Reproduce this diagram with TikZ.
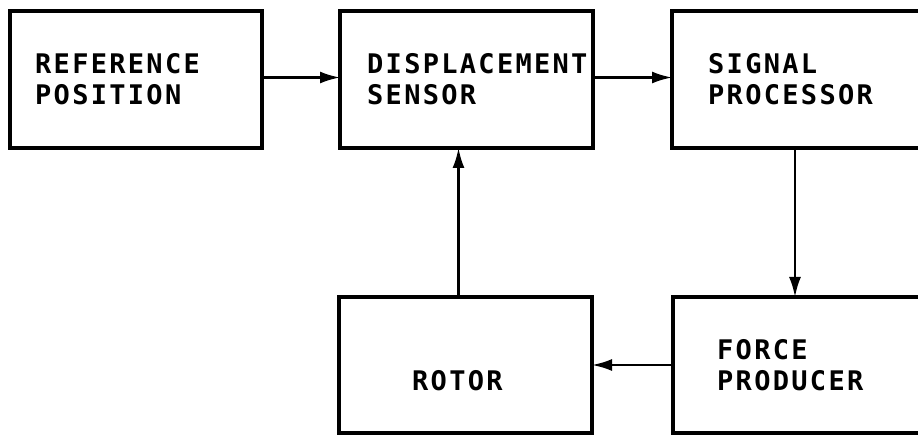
\documentclass[tikz,border=0pt]{standalone}
\usepackage{fontspec}
\newfontfamily\lblfont[LetterSpace=8.5]{DejaVu Sans Mono}
\usetikzlibrary{arrows.meta}
\tikzset{
  blk/.style={draw=black, line width=3.5pt, rectangle, inner sep=0pt, outer sep=0pt, anchor=north west},
  lbl/.style={anchor=north west, inner sep=0pt, align=left, font={\lblfont\bfseries\fontsize{27}{31}\selectfont}},
  conn/.style={line width=2.4pt, arrows={-Latex[length=20pt,width=12pt]}}
}
\begin{document}
\begin{tikzpicture}[x=1pt,y=-1pt]
\clip (0,0) rectangle (918,435);
\fill[white] (0,0) rectangle (918,435);
\node[blk, minimum width=252pt, minimum height=137pt] (ref) at (10,11) {};
\node[blk, minimum width=253pt, minimum height=137pt] (ds) at (340,11) {};
\node[blk, minimum width=300pt, minimum height=137pt] (sp) at (672,11) {};
\node[blk, minimum width=253pt, minimum height=136pt] (rot) at (339,297) {};
\node[blk, minimum width=300pt, minimum height=136pt] (fp) at (673,297) {};
\node[lbl] (tref) at (35,53) {REFERENCE\\POSITION};
\node[lbl] (tds) at (367,53) {DISPLACEMENT\\SENSOR};
\node[lbl] (tsp) at (708,53) {SIGNAL\\PROCESSOR};
\node[lbl] (trot) at (412,370) {ROTOR};
\node[lbl] (tfp) at (717,339) {FORCE\\PRODUCER};
\draw[conn] ([yshift=2pt]ref.east) -- ([yshift=2pt]ds.west);
\draw[conn] ([yshift=2pt]ds.east) -- ([yshift=2pt]sp.west);
\draw[conn] ([xshift=123pt]sp.south west) -- ([xshift=122pt]fp.north west);
\draw[conn] (fp.west) -- (rot.east);
\draw[conn] ([xshift=-7pt]rot.north) -- ([xshift=-8pt]ds.south);
\end{tikzpicture}
\end{document}
